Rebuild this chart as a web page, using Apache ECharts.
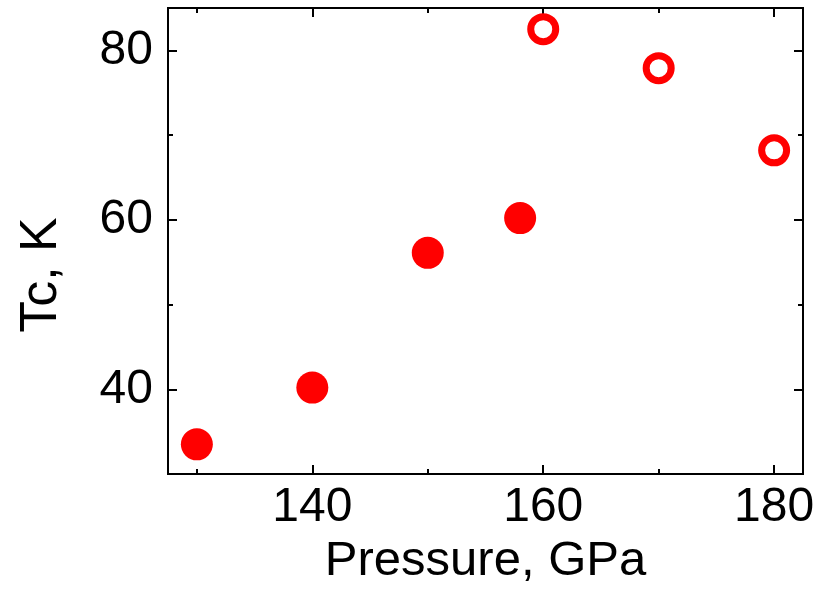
<!DOCTYPE html>
<html>
<head>
<meta charset="utf-8">
<script src="https://cdn.jsdelivr.net/npm/echarts@6/dist/echarts.min.js"></script>
<style>
  html, body { margin: 0; padding: 0; background: #fff; }
  #chart { width: 820px; height: 596px; }
</style>
</head>
<body>
<div id="chart"></div>
<script>
// measured points: pressure (GPa), Tc (K)
var filledPressure = [130, 140, 150, 158];
var filledTc = [33.5, 40.2, 56.1, 60.2];
var openPressure = [160, 170, 180];
var openTc = [82.5, 77.9, 68.2];

var xMajorTicks = [140, 160, 180];
var xMinorTicks = [130, 150, 170];
var yMajorTicks = [40, 60, 80];
var yMinorTicks = [50, 70];

var FONT = 'Liberation Sans';
var RED = '#ff0000';

function pairs(xs, ys) {
    var out = [];
    for (var i = 0; i < xs.length; i++) out.push([xs[i], ys[i]]);
    return out;
}

function xAx(pos, ticks, len, showLabel, extra) {
    var a = {
        type: 'value', position: pos, min: 127.5, max: 182.5,
        axisLine: { show: true, onZero: false, lineStyle: { color: '#000', width: 2 } },
        axisTick: { show: true, inside: true, length: len, customValues: ticks, lineStyle: { color: '#000', width: 2 } },
        axisLabel: { show: showLabel, customValues: ticks, margin: 10, fontSize: 48, color: '#000', fontFamily: FONT },
        splitLine: { show: false }
    };
    return Object.assign(a, extra || {});
}

function yAx(pos, ticks, len, showLabel, extra) {
    var a = {
        type: 'value', position: pos, min: 30, max: 85,
        axisLine: { show: true, onZero: false, lineStyle: { color: '#000', width: 2 } },
        axisTick: { show: true, inside: true, length: len, customValues: ticks, lineStyle: { color: '#000', width: 2 } },
        axisLabel: { show: showLabel, customValues: ticks, margin: 15, fontSize: 48, color: '#000', fontFamily: FONT },
        splitLine: { show: false }
    };
    return Object.assign(a, extra || {});
}

var myChart = echarts.init(document.getElementById('chart'));
var option = {
    animation: false,
    backgroundColor: '#fff',
    grid: { left: 168, right: 17, top: 8, bottom: 122 },
    xAxis: [
        xAx('bottom', xMajorTicks, 9, true, {
            name: 'Pressure, GPa', nameLocation: 'middle', nameGap: 63,
            nameTextStyle: { fontSize: 49, color: '#000', fontFamily: FONT }
        }),
        xAx('bottom', xMinorTicks, 5, false),
        xAx('top', xMajorTicks, 9, false),
        xAx('top', xMinorTicks, 5, false)
    ],
    yAxis: [
        yAx('left', yMajorTicks, 9, true, {
            name: 'Tc, K', nameLocation: 'middle', nameGap: 100,
            nameTextStyle: { fontSize: 52, color: '#000', fontFamily: FONT, padding: [0, 68, 0, 0] }
        }),
        yAx('left', yMinorTicks, 5, false),
        yAx('right', yMajorTicks, 9, false),
        yAx('right', yMinorTicks, 5, false)
    ],
    series: [
        {
            type: 'scatter', xAxisIndex: 0, yAxisIndex: 0,
            data: pairs(filledPressure, filledTc),
            symbol: 'circle', symbolSize: 32,
            itemStyle: { color: RED, opacity: 1 }
        },
        {
            type: 'scatter', xAxisIndex: 0, yAxisIndex: 0,
            data: pairs(openPressure, openTc),
            symbol: 'circle', symbolSize: 25,
            itemStyle: { color: '#fff', borderColor: RED, borderWidth: 7, opacity: 1 }
        }
    ]
};
myChart.setOption(option);
</script>
</body>
</html>
